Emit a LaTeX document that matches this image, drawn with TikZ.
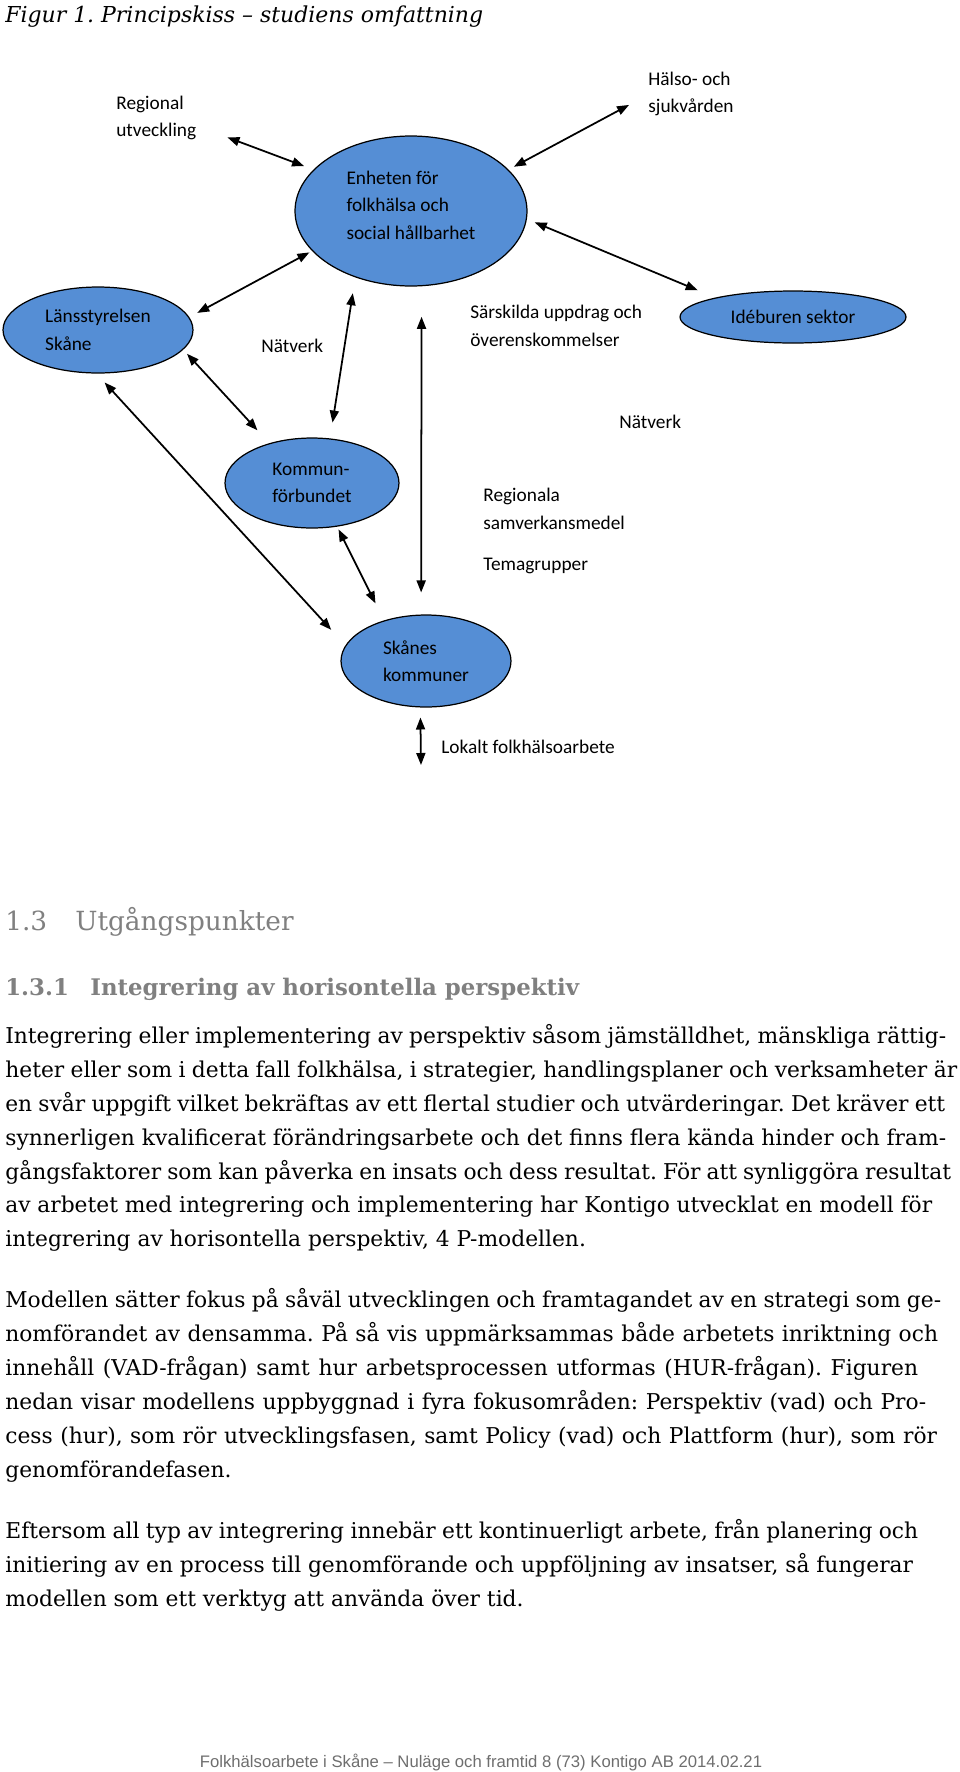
\documentclass[tikz,border=0pt]{standalone}
\usepackage{fontspec}
\setmainfont{Carlito}
\newfontfamily\bodyfont{DejaVu Serif}
\newfontfamily\footfont{Liberation Sans}
\usetikzlibrary{arrows.meta,shapes.geometric}
\definecolor{blobblue}{RGB}{85,142,213}
\definecolor{headgray}{RGB}{128,128,128}
\definecolor{footgray}{RGB}{110,110,110}
\frenchspacing

\begin{document}
\begin{tikzpicture}[x=0.02cm, y=-0.02cm,
		>={Triangle[length=2.4mm,width=1.8mm]},
		blob/.style={ellipse, draw=black, line width=0.7pt, fill=blobblue, inner sep=0pt, align=left, font=\fontsize{11}{15.6}\selectfont},
		txt/.style={anchor=west, inner sep=0pt, align=left, font=\fontsize{11}{15.6}\selectfont},
		link/.style={<->, line width=1pt},
		bodyline/.style={anchor=base west, inner sep=0pt, font=\bodyfont\fontsize{12.4}{14}\selectfont}]
		%%%%% START %%%%%
		
		\useasboundingbox (0,0) rectangle (960,1772);
		
		\node[anchor=base west, inner sep=0pt, font=\bodyfont\itshape\fontsize{12.5}{14}\selectfont] (title) at (5,22) {Figur 1. Principskiss – studiens omfattning};
		
		% ellipses
		\node[blob, minimum width=4.64cm, minimum height=3cm,
			label={[inner sep=0pt, align=left, font=\fontsize{11}{15.6}\selectfont, yshift=0.12cm]center:{Enheten för\\folkhälsa och\\social hållbarhet}}] (central) at (411,211) {};
		\node[blob, minimum width=3.8cm, minimum height=1.72cm] (lans) at (98,330) {Länsstyrelsen\\Skåne};
		\node[blob, minimum width=4.52cm, minimum height=1.04cm] (ideburen) at (793,317) {Idéburen sektor};
		\node[blob, minimum width=3.48cm, minimum height=1.8cm] (kommun) at (312,483) {Kommun-\\förbundet};
		\node[blob, minimum width=3.4cm, minimum height=1.84cm] (skane) at (426,661) {Skånes\\kommuner};
		
		% free texts
		\node[txt] (regional) at (116,118) {Regional\\utveckling};
		\node[txt] (halso) at (648,94) {Hälso- och\\sjukvården};
		\node[txt] (natverkv) at (261,346) {Nätverk};
		\node[txt] (sarskilda) at (470,326) {Särskilda uppdrag och\\överenskommelser};
		\node[txt] (natverkh) at (619,422) {Nätverk};
		\node[txt] (regionala) at (483,509) {Regionala\\samverkansmedel};
		\node[txt] (tema) at (483,566) {Temagrupper};
		\node[txt] (lokalt) at (441,747) {Lokalt folkhälsoarbete};
		\coordinate (lokaltpil) at (421,765);
		
		% arrows
		\draw[link, shorten <=0.66cm, shorten >=0.2cm] (regional.-11) -- (central.157.5);
		\draw[link, shorten <=0.43cm, shorten >=0.12cm] (halso.181) -- (central.23);
		\draw[link, shorten <=0.18cm, shorten >=0.06cm] (lans.8.7) -- (central.202.7);
		\draw[link, shorten <=0.17cm, shorten >=0.38cm] (central.-4.4) -- (ideburen.166.6);
		\draw[link, shorten <=0.32cm, shorten >=0.32cm] (central.230.6) -- (kommun.68.6);
		\draw[link, shorten <=0.61cm, shorten >=0.44cm] (central.-82.4) -- (skane.96.2);
		\draw[link, shorten <=0.11cm, shorten >=0.35cm] (lans.-13.3) -- (kommun.137.8);
		\draw[link, shorten <=0.24cm, shorten >=0.42cm] (lans.-92.9) -- (skane.169.9);
		\draw[link, shorten <=0.06cm, shorten >=0.38cm] (kommun.-60.3) -- (skane.136.9);
		\draw[link, shorten <=0.2cm] (skane.263.8) -- (lokaltpil);
		
		% headings
		\node[anchor=base west, inner sep=0pt, text=headgray, font=\bodyfont\fontsize{15}{17}\selectfont] (h13) at (5,930) {\makebox[1.4cm][l]{1.3}Utgångspunkter};
		\node[anchor=base west, inner sep=0pt, text=headgray, font=\bodyfont\bfseries\fontsize{13}{15}\selectfont] (h131) at (5,995) {\makebox[1.7cm][l]{1.3.1}Integrering av horisontella perspektiv};
		
		% paragraph 1
		\node[bodyline] (p1a) at (5,1043) {\makebox[18.82cm][s]{Integrering eller implementering av perspektiv såsom jämställdhet, mänskliga rättig-}};
		\node[bodyline] (p1b) at (5,1077) {\makebox[19.04cm][s]{heter eller som i detta fall folkhälsa, i strategier, handlingsplaner och verksamheter är}};
		\node[bodyline] (p1c) at (5,1111) {\makebox[18.8cm][s]{en svår uppgift vilket bekräftas av ett flertal studier och utvärderingar. Det kräver ett}};
		\node[bodyline] (p1d) at (5,1145) {\makebox[18.82cm][s]{synnerligen kvalificerat förändringsarbete och det finns flera kända hinder och fram-}};
		\node[bodyline] (p1e) at (5,1179) {\makebox[18.92cm][s]{gångsfaktorer som kan påverka en insats och dess resultat. För att synliggöra resultat}};
		\node[bodyline] (p1f) at (5,1212) {\makebox[18.54cm][s]{av arbetet med integrering och implementering har Kontigo utvecklat en modell för}};
		\node[bodyline] (p1g) at (5,1246) {integrering av horisontella perspektiv, 4 P-modellen.};
		
		% paragraph 2
		\node[bodyline] (p2a) at (5,1307) {\makebox[18.72cm][s]{Modellen sätter fokus på såväl utvecklingen och framtagandet av en strategi som ge-}};
		\node[bodyline] (p2b) at (5,1341) {\makebox[18.66cm][s]{nomförandet av densamma. På så vis uppmärksammas både arbetets inriktning och}};
		\node[bodyline] (p2c) at (5,1375) {\makebox[18.26cm][s]{innehåll (VAD-frågan) samt hur arbetsprocessen utformas (HUR-frågan). Figuren}};
		\node[bodyline] (p2d) at (5,1409) {\makebox[18.42cm][s]{nedan visar modellens uppbyggnad i fyra fokusområden: Perspektiv (vad) och Pro-}};
		\node[bodyline] (p2e) at (5,1443) {\makebox[18.64cm][s]{cess (hur), som rör utvecklingsfasen, samt Policy (vad) och Plattform (hur), som rör}};
		\node[bodyline] (p2f) at (5,1477) {genomförandefasen.};
		
		% paragraph 3
		\node[bodyline] (p3a) at (5,1538) {\makebox[18.26cm][s]{Eftersom all typ av integrering innebär ett kontinuerligt arbete, från planering och}};
		\node[bodyline] (p3b) at (5,1572) {\makebox[18.16cm][s]{initiering av en process till genomförande och uppföljning av insatser, så fungerar}};
		\node[bodyline] (p3c) at (5,1606) {modellen som ett verktyg att använda över tid.};
		
		\node[anchor=base, inner sep=0pt, text=footgray, font=\footfont\fontsize{9.5}{11}\selectfont] (foot) at (481,1767) {Folkhälsoarbete i Skåne – Nuläge och framtid 8 (73) Kontigo AB 2014.02.21};
		
		%%%%% END %%%%%
\end{tikzpicture}
\end{document}
